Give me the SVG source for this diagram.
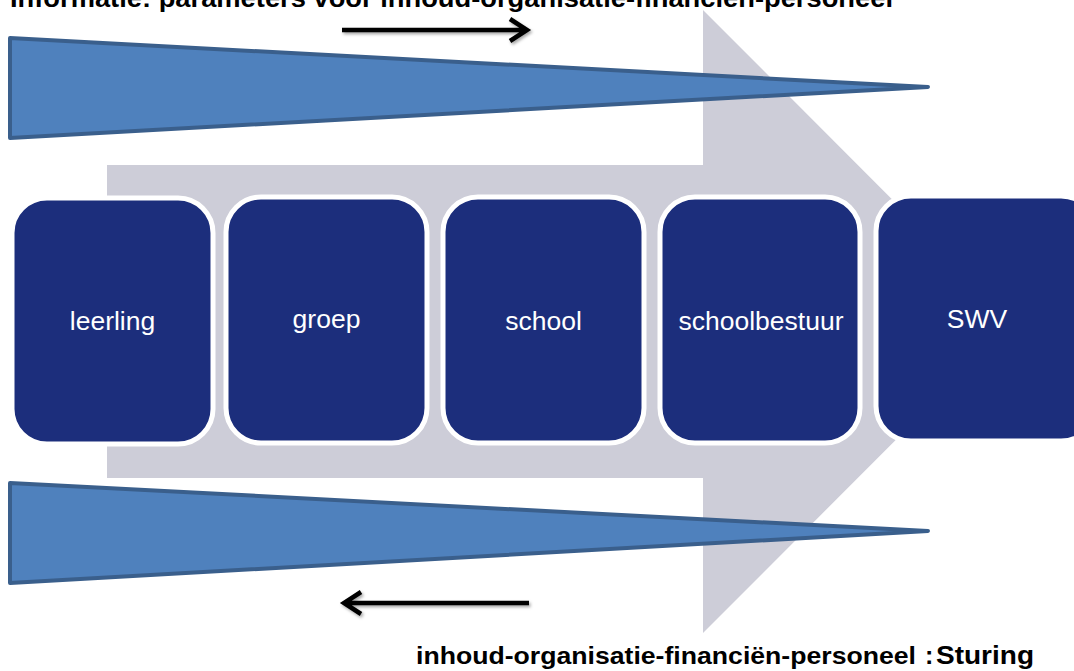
<svg xmlns="http://www.w3.org/2000/svg" width="1074" height="671" viewBox="0 0 1074 671">
<defs>
<style>
.node rect{fill:#1C2E7C;stroke:#FFFFFF;stroke-width:5}
.node text{fill:#FFFFFF;font-family:"Liberation Sans",Arial,sans-serif;font-size:26.5px;text-anchor:middle}
.wedge{fill:#4F81BD;stroke:#3A5F8C;stroke-width:4;stroke-linejoin:round}
.arr{fill:none;stroke:#000000;stroke-width:4.5;stroke-linecap:butt;stroke-linejoin:miter}
.lbl{font-family:"Liberation Sans",Arial,sans-serif;font-weight:bold;fill:#000000}
</style>
<filter id="sh" x="-20%" y="-100%" width="140%" height="300%">
<feDropShadow dx="1.5" dy="2" stdDeviation="1.5" flood-color="#000000" flood-opacity="0.35"/>
</filter>
</defs>
<rect width="1074" height="671" fill="#FFFFFF"/>
<g id="backarrow">
<polygon points="107,165 703,165 703,10 1014,321.5 703,633 703,478 107,478" fill="#CDCDD8"/>
</g>
<g id="wedge-top">
<polygon class="wedge" points="10,38 928,87 10,138"/>
</g>
<g id="wedge-bottom">
<polygon class="wedge" points="10,483 928,531 10,583"/>
</g>
<g id="node-leerling" class="node">
<rect x="12" y="198" width="201" height="246" rx="35"/>
<text x="112.5" y="330">leerling</text>
</g>
<g id="node-groep" class="node">
<rect x="226" y="197" width="201" height="246" rx="35"/>
<text x="326.5" y="328">groep</text>
</g>
<g id="node-school" class="node">
<rect x="443" y="197" width="201" height="246" rx="35"/>
<text x="543.5" y="330">school</text>
</g>
<g id="node-schoolbestuur" class="node">
<rect x="660" y="197" width="200" height="246" rx="35"/>
<text x="761" y="330">schoolbestuur</text>
</g>
<g id="node-SWV" class="node">
<rect x="876" y="196" width="220" height="245" rx="35"/>
<text x="977" y="328">SWV</text>
</g>
<g id="connectors" filter="url(#sh)">
<path class="arr" d="M342,30 H527 M510,19 L527,30 L510,41"/>
<path class="arr" d="M529,603 H344 M361,592 L344,603 L361,614"/>
</g>
<g id="labels">
<text class="lbl" x="10" y="7" font-size="25" textLength="883" lengthAdjust="spacingAndGlyphs">Informatie: parameters voor inhoud-organisatie-financiën-personeel</text>
<text class="lbl" x="416" y="664" font-size="24" textLength="500" lengthAdjust="spacingAndGlyphs">inhoud-organisatie-financiën-personeel</text>
<text class="lbl" x="925" y="664" font-size="25">:</text>
<text class="lbl" x="936" y="664" font-size="26" textLength="98" lengthAdjust="spacingAndGlyphs">Sturing</text>
</g>
</svg>
